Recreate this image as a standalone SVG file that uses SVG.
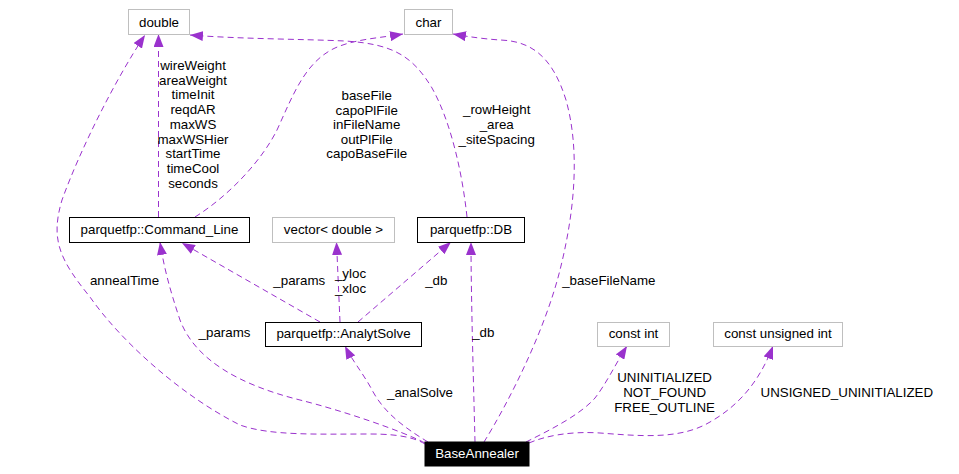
<svg xmlns="http://www.w3.org/2000/svg" width="959" height="474" viewBox="0 0 959 474">
<style>
text{font-family:"Liberation Sans",Arial,sans-serif;font-size:13.33px;fill:#000;text-anchor:middle}
.n rect{fill:#fff;stroke:#000;stroke-width:1}
.g rect{fill:#fff;stroke:#bfbfbf;stroke-width:1}
.b rect{fill:#000;stroke:#000}
.b text{fill:#fff}
.e path{fill:none;stroke:#9a32cd;stroke-width:1;stroke-dasharray:6,4;marker-end:url(#ah)}
</style>
<defs>
<marker id="ah" viewBox="0 0 13 10" refX="13" refY="5" markerWidth="13" markerHeight="10" markerUnits="userSpaceOnUse" orient="auto">
<path d="M0,0 L13,5 L0,10 z" fill="#9a32cd" stroke="none"/>
</marker>
</defs>
<rect width="959" height="474" fill="#fff"/>
<g id="edges" class="e">
<path d="M158.5,217 L158.5,34"/>
<path d="M425,444 C415,438 400,434 370,434 C320,434 270,436 240,425 C180,395 120,340 90,297 C60,260 50,240 62,200 C80,150 115,80 145,35"/>
<path d="M195,217 C230,195 262,160 277,130 C293,95 305,62 335,48 C355,39 380,38 403,34"/>
<path d="M467,217 C462,170 450,120 432,88 C412,55 392,44 345,41 C300,39 240,39 190,35"/>
<path d="M484,442 C510,400 545,330 560,270 C575,210 580,150 566,100 C552,55 530,41 500,40 C485,39 470,37 453,34"/>
<path d="M425,443 C400,430 340,410 300,400 C240,385 195,360 180,320 C170,290 164,268 160,242"/>
<path d="M320,322 L182,243"/>
<path d="M340,322 L336.5,242"/>
<path d="M358,322 L451,242"/>
<path d="M475,442 C474,400 471,300 471,242"/>
<path d="M428,442 C400,425 382,410 371,388 C362,372 352,360 345,346"/>
<path d="M526,442 C550,430 580,415 595,398 C606,384 615,365 627,346"/>
<path d="M529,443 C545,436 570,431 600,433 C640,436 680,440 710,422 C740,405 760,380 773,346"/>
</g>
<g id="edge-labels">
<text x="193" y="70">wireWeight</text>
<text x="193" y="84.7">areaWeight</text>
<text x="193" y="99.4">timeInit</text>
<text x="193" y="114.1">reqdAR</text>
<text x="193" y="128.8">maxWS</text>
<text x="193" y="143.5">maxWSHier</text>
<text x="193" y="158.2">startTime</text>
<text x="193" y="172.9">timeCool</text>
<text x="193" y="187.6">seconds</text>
<text x="366.7" y="100">baseFile</text>
<text x="366.7" y="114.5">capoPlFile</text>
<text x="366.7" y="129">inFileName</text>
<text x="366.7" y="143.5">outPlFile</text>
<text x="366.7" y="158">capoBaseFile</text>
<text x="496.7" y="114">_rowHeight</text>
<text x="496.7" y="129">_area</text>
<text x="496.7" y="144">_siteSpacing</text>
<text x="124.5" y="285">annealTime</text>
<text x="224.5" y="337">_params</text>
<text x="299.3" y="285">_params</text>
<text x="350.5" y="277.7">_yloc</text>
<text x="350.5" y="292.7">_xloc</text>
<text x="436.3" y="285">_db</text>
<text x="420" y="397">_analSolve</text>
<text x="483.3" y="337">_db</text>
<text x="608.8" y="285">_baseFileName</text>
<text x="664.6" y="382">UNINITIALIZED</text>
<text x="664.6" y="397">NOT_FOUND</text>
<text x="664.6" y="412">FREE_OUTLINE</text>
<text x="846.8" y="397">UNSIGNED_UNINITIALIZED</text>
</g>
<g id="node-double" class="g"><rect x="128.5" y="9.5" width="61" height="25"/><text x="159" y="26.5">double</text></g>
<g id="node-char" class="g"><rect x="404.5" y="9.5" width="48" height="25"/><text x="428.5" y="26.5">char</text></g>
<g id="node-commandline" class="n"><rect x="69.5" y="217.5" width="180" height="25"/><text x="159.5" y="234.3">parquetfp::Command_Line</text></g>
<g id="node-vector" class="g"><rect x="272.5" y="217.5" width="122" height="25"/><text x="333.5" y="234.3">vector&lt; double &gt;</text></g>
<g id="node-db" class="n"><rect x="417.5" y="217.5" width="107" height="25"/><text x="471" y="234.3">parquetfp::DB</text></g>
<g id="node-analytsolve" class="n"><rect x="265.5" y="322.5" width="156" height="24"/><text x="343.5" y="338.3">parquetfp::AnalytSolve</text></g>
<g id="node-constint" class="g"><rect x="597.5" y="322.5" width="72" height="24"/><text x="633.5" y="338.3">const int</text></g>
<g id="node-constuint" class="g"><rect x="713.5" y="322.5" width="129" height="24"/><text x="778" y="338.3">const unsigned int</text></g>
<g id="node-baseannealer" class="b"><rect x="425" y="442" width="104" height="24"/><text x="477" y="458.3">BaseAnnealer</text></g>
</svg>
